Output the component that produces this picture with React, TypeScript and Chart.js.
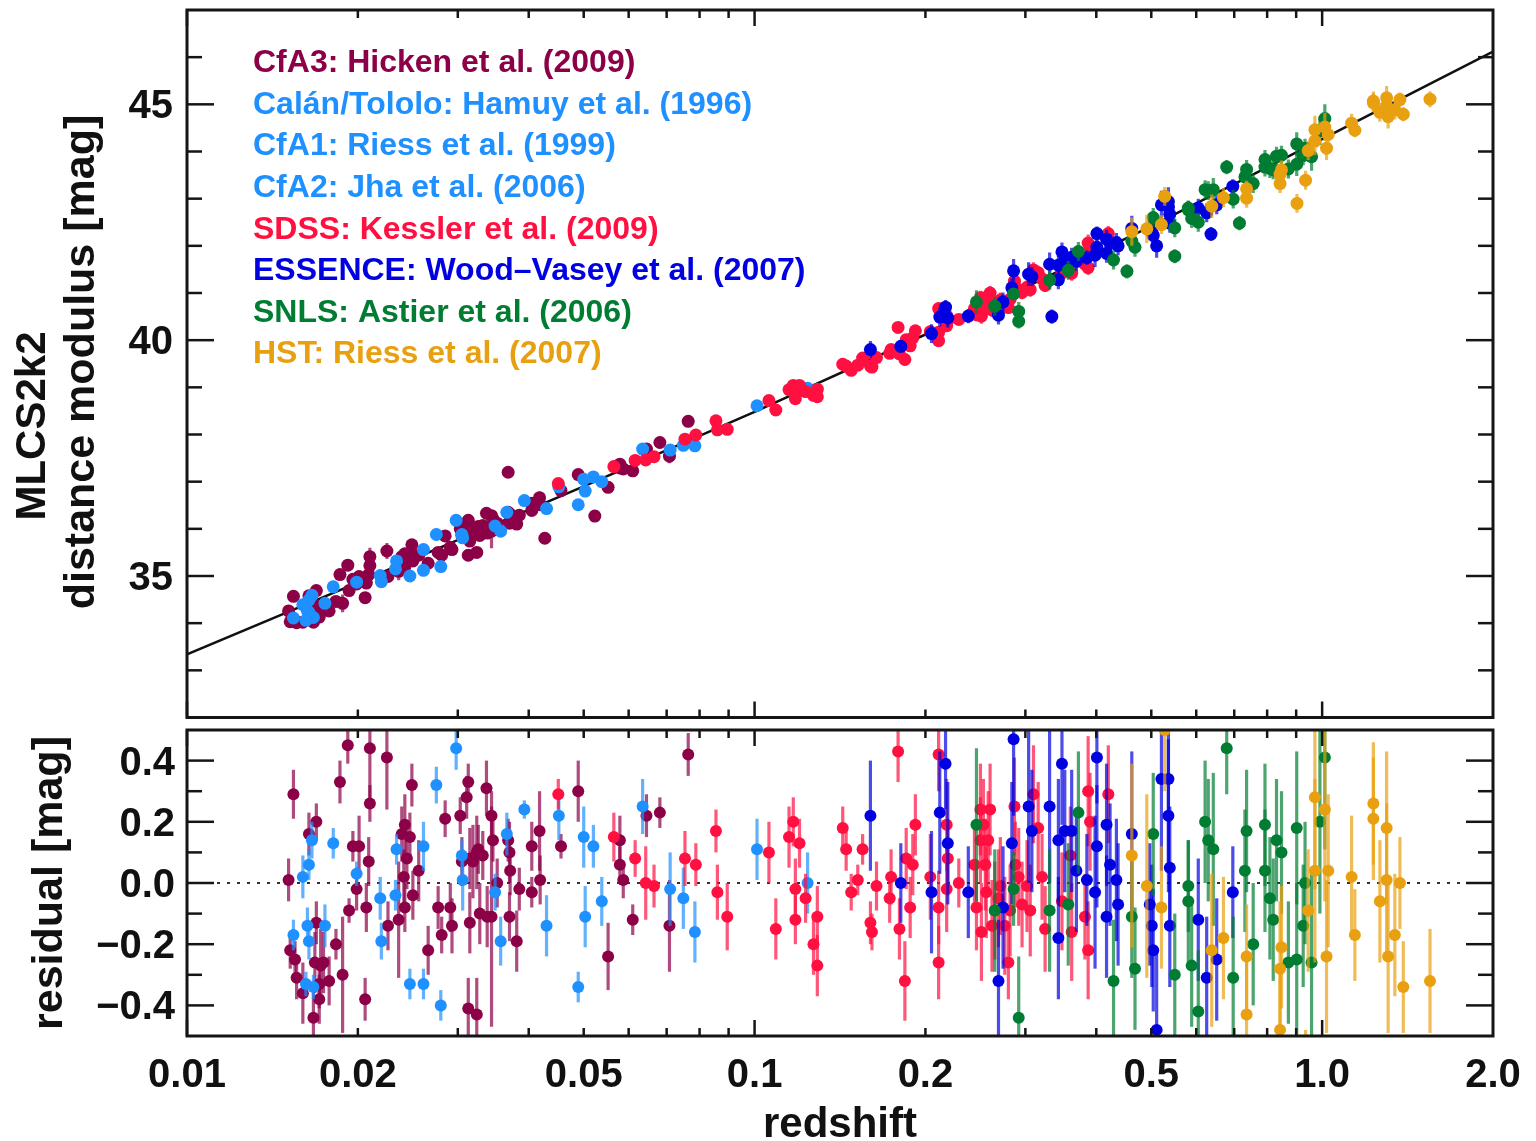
import React, { useEffect, useRef } from "react";
import { Chart, registerables } from "chart.js";

Chart.register(...registerables);

const FONT = '"Liberation Sans", Arial, Helvetica, sans-serif';

// ---------------- model curve ----------------
const modelZ = [0.01, 0.02, 0.05, 0.1, 0.2, 0.3, 0.5, 0.7, 1.0, 1.5, 2.0];
const modelMu = [33.34, 34.86, 36.9, 38.48, 40.12, 41.12, 42.42, 43.31, 44.26, 45.35, 46.12];
const zeroLineZ = [0.01, 2.0];
const zeroLineRes = [0, 0];

// ---------------- axis ticks ----------------
const xTickValues = [0.01, 0.02, 0.05, 0.1, 0.2, 0.5, 1.0, 2.0];
const xTickLabels = ["0.01", "0.02", "0.05", "0.1", "0.2", "0.5", "1.0", "2.0"];
const xMajorTicks = [0.01, 0.1, 1.0];
const xMinorTicks = [0.02, 0.03, 0.04, 0.05, 0.06, 0.07, 0.08, 0.09, 0.2, 0.3, 0.4, 0.5, 0.6, 0.7, 0.8, 0.9];
const muTickValues = [35, 40, 45];
const muTickLabels = ["35", "40", "45"];
const muMinorTicks = [33, 34, 36, 37, 38, 39, 41, 42, 43, 44, 46];
const resTickValues = [0.4, 0.2, 0.0, -0.2, -0.4];
const resTickLabels = ["0.4", "0.2", "0.0", "\u22120.2", "\u22120.4"];
const resMinorTicks = [0.3, 0.1, -0.1, -0.3];

// ---------------- CfA3: Hicken et al. (2009) ----------------
const cfa3Z = [0.0154,0.0151,0.0152,0.0155,0.0156,0.0164,0.0169,0.0169,0.0168,0.0174,
0.0171,0.0171,0.0167,0.0183,0.0186,0.0192,0.0188,0.0193,0.0196,0.0201,
0.0199,0.0206,0.0207,0.0209,0.0210,0.0210,0.0225,0.0226,0.0236,0.0239,
0.0242,0.0247,0.0244,0.0241,0.0242,0.0250,0.0249,0.0256,0.0266,0.0277,
0.0281,0.0285,0.0291,0.0293,0.0303,0.0311,0.0313,0.0315,0.0313,0.0324,
0.0324,0.0319,
0.0328,0.0338,0.0326,0.0332,0.0315,0.0305,
0.0337,0.0344,0.0346,0.0352,0.0368,0.0370,0.0371,0.0370,0.0381,0.0385,
0.0344,0.0405,0.0418,0.0419,0.0405,0.0456,0.0489,0.0552,0.0579,0.0579,
0.0587,0.0610,0.0645,0.0681,0.0708,0.0764,
0.0368,0.0523,0.0427,
0.0160,0.0172,0.0178];
const cfa3Mu = [34.57,34.26,34.03,34.05,34.01,34.58,34.69,34.37,34.22,34.29,
34.19,34.13,34.02,34.46,35.03,35.23,34.42,34.69,34.93,34.99,
34.83,34.54,34.85,35.03,35.41,35.22,35.53,34.99,35.10,35.41,
35.47,35.47,35.38,35.28,35.20,35.32,35.66,35.44,35.27,35.50,
35.44,35.85,35.61,35.56,36.00,36.12,36.18,35.74,35.44,35.50,
36.03,35.97,
35.86,35.91,36.05,36.07,35.94,35.86,
36.33,36.28,36.21,36.12,36.35,36.32,36.26,36.12,36.10,36.29,
35.95,36.54,36.66,36.51,36.39,36.81,37.15,36.88,37.37,37.29,
37.27,37.23,37.69,37.83,37.54,38.28,
37.20,36.27,35.80,
34.02,34.26,34.26];
const cfa3Res = [0.29,0.01,-0.22,-0.25,-0.31,0.16,0.20,-0.13,-0.26,-0.26,
-0.33,-0.38,-0.44,-0.20,0.33,0.45,-0.30,-0.09,0.12,0.12,
-0.02,-0.38,-0.08,0.07,0.44,0.26,0.41,-0.14,-0.12,0.16,
0.19,0.15,0.08,0.02,-0.08,-0.04,0.32,0.04,-0.22,-0.08,
-0.17,0.21,-0.08,-0.14,0.22,0.28,0.33,-0.13,-0.41,-0.43,
0.10,0.07,
-0.10,-0.11,0.11,0.09,0.08,0.07,
0.31,0.22,0.14,0.00,0.14,0.10,0.04,-0.11,-0.19,-0.02,
-0.11,0.12,0.17,0.01,-0.03,0.12,0.30,-0.24,0.14,0.06,
0.01,-0.12,0.22,0.23,-0.14,0.42,
0.99,-0.73,-0.74,
-0.36,-0.27,-0.32];
const cfa3Err = [0.08,0.07,0.06,0.06,0.07,0.07,0.06,0.07,0.10,0.10,
0.08,0.08,0.10,0.05,0.07,0.06,0.19,0.04,0.05,0.10,
0.07,0.07,0.08,0.08,0.19,0.06,0.17,0.08,0.19,0.09,
0.10,0.08,0.10,0.09,0.08,0.08,0.07,0.10,0.08,0.07,
0.06,0.06,0.08,0.09,0.06,0.07,0.06,0.10,0.10,0.12,
0.12,0.12,
0.10,0.10,0.08,0.08,0.10,0.08,
0.09,0.08,0.07,0.08,0.07,0.10,0.08,0.08,0.10,0.07,
0.36,0.08,0.13,0.08,0.05,0.04,0.10,0.11,0.08,0.06,
0.06,0.05,0.07,0.05,0.15,0.07,
0.10,0.10,0.08,
0.10,0.12,0.08];

// ---------------- Calán/Tololo: Hamuy et al. (1996) ----------------
const calanZ = [0.0160,0.0175,0.0199,0.0234,0.0298,0.0393,0.0489,0.0520,0.0710,0.101,0.124];
const calanMu = [34.39,34.42,34.87,35.32,36.18,36.60,36.51,37.10,37.67,38.61,38.98];
const calanRes = [0.02,-0.14,0.03,0.11,0.44,0.24,-0.34,0.12,-0.02,0.11,0.00];
const calanErr = [0.07,0.07,0.04,0.05,0.07,0.03,0.05,0.07,0.12,0.10,0.10];

// ---------------- CfA1: Riess et al. (1999) ----------------
const cfa1Z = [0.0154,0.0166,0.0164,0.0167,0.0220,0.0261,0.0275,0.0366,0.0452,0.0538];
const cfa1Mu = [34.11,34.59,34.23,34.12,34.88,35.12,35.88,36.35,36.89,37.00];
const cfa1Res = [-0.17,0.14,-0.19,-0.34,-0.19,-0.33,0.32,0.16,0.22,-0.06];
const cfa1Err = [0.05,0.06,0.06,0.04,0.06,0.05,0.06,0.07,0.08,0.08];

// ---------------- CfA2: Jha et al. (2006) ----------------
const cfa2Z = [0.0164,0.0163,0.0162,0.0181,0.0219,0.0233,0.0247,0.0261,0.0280,0.0306,
0.0305,0.0357,0.0349,0.0430,0.0500,0.0503,0.0635,0.0749,0.0785];
const cfa2Mu = [34.49,34.26,34.06,34.77,35.01,35.15,35.00,35.56,35.20,35.81,
35.88,35.95,36.06,36.43,37.05,36.80,37.69,37.77,37.76];
const cfa2Res = [0.06,-0.14,-0.33,0.13,-0.05,-0.04,-0.33,0.12,-0.40,0.01,
0.09,-0.19,-0.03,-0.14,0.15,-0.11,0.25,-0.05,-0.16];
const cfa2Err = [0.05,0.06,0.04,0.05,0.07,0.05,0.05,0.08,0.05,0.10,
0.05,0.08,0.06,0.10,0.10,0.10,0.09,0.10,0.10];

// ---------------- SDSS: Kessler et al. (2009) ----------------
const sdssZ = [0.0451,0.0565,0.0616,0.0643,0.0665,0.0754,0.0788,
0.0855,0.0860,0.0895,0.106,0.109,0.115,0.117,0.120,0.118,0.118,
0.123,0.127,0.129,0.129,0.143,0.145,0.148,0.152,0.155,0.160,
0.161,0.164,0.173,0.174,0.179,0.180,0.184,0.185,0.190,0.192,0.188,
0.211,0.218,0.219,0.218,0.211,0.211,0.204,0.229,0.250,0.260,
0.250,0.258,0.255,0.246,0.251,0.256,0.280,0.287,0.288,0.296,
0.310,0.316,0.321,0.325,0.360,0.362,0.382,0.387,0.387,0.390,
0.420,0.271,0.265,0.302,0.348,
0.253,0.244,0.276,0.262,0.269,0.282,0.292,0.306];
const sdssMu = [36.96,37.32,37.45,37.46,37.53,37.90,37.99,
38.29,38.10,38.11,38.72,38.52,38.95,39.04,39.04,38.85,38.76,
38.91,38.83,38.96,38.80,39.49,39.45,39.36,39.47,39.62,39.45,
39.43,39.63,39.72,39.80,40.27,39.71,39.59,40.01,40.05,40.20,39.88,
40.67,40.52,40.42,40.31,40.17,39.99,40.18,40.44,40.90,41.00,
40.80,40.88,40.77,40.54,40.51,40.69,40.69,41.25,41.07,41.01,
41.49,41.43,41.30,41.16,41.66,41.42,41.61,41.54,42.06,41.97,
42.26,40.85,40.72,41.12,41.42,
40.88,40.67,40.77,40.64,40.79,40.87,41.07,41.07];
const sdssRes = [0.29,0.15,0.08,0.00,-0.01,0.08,0.06,
0.17,-0.03,-0.11,0.10,-0.15,0.15,0.20,0.13,-0.02,-0.12,
-0.05,-0.20,-0.11,-0.27,0.18,0.11,-0.03,0.01,0.11,-0.13,
-0.16,-0.01,-0.05,0.02,0.43,-0.15,-0.32,0.08,0.06,0.19,-0.08,
0.42,0.19,0.08,-0.02,-0.08,-0.26,0.02,0.00,0.24,0.24,
0.14,0.14,0.06,-0.08,-0.16,-0.03,-0.26,0.25,0.06,-0.07,
0.29,0.18,0.02,-0.15,0.09,-0.16,-0.11,-0.22,0.30,0.20,
0.29,-0.01,-0.09,-0.01,-0.06,
0.19,0.06,-0.14,-0.14,-0.05,-0.09,0.02,-0.09];
const sdssErr = [0.05,0.08,0.06,0.12,0.07,0.09,0.07,
0.07,0.09,0.11,0.10,0.10,0.10,0.08,0.08,0.10,0.08,
0.08,0.10,0.10,0.10,0.07,0.07,0.06,0.05,0.05,0.07,
0.06,0.08,0.08,0.09,0.10,0.10,0.13,0.10,0.10,0.10,0.10,
0.12,0.15,0.12,0.14,0.12,0.12,0.14,0.08,0.15,0.15,
0.14,0.16,0.15,0.14,0.16,0.15,0.12,0.16,0.14,0.14,
0.16,0.15,0.14,0.14,0.16,0.16,0.14,0.16,0.18,0.16,
0.16,0.16,0.16,0.15,0.16,
0.15,0.14,0.16,0.15,0.16,0.15,0.16,0.15];

// ---------------- ESSENCE: Wood-Vasey et al. (2007) ----------------
const essZ = [0.160,0.181,0.217,0.212,0.205,0.219,0.238,0.274,0.269,0.286,
0.284,0.304,0.308,0.331,0.348,0.343,0.352,0.343,0.369,0.385,
0.401,0.401,0.398,0.417,0.417,0.423,0.362,
0.462,0.434,0.437,0.521,0.536,0.536,0.539,0.539,0.501,0.504,
0.511,0.605,0.652,0.626,0.696,0.497,
0.334,0.637];
const essMu = [39.80,39.87,40.70,40.49,40.14,40.47,40.51,40.81,40.53,41.47,
41.11,41.40,41.35,41.61,41.87,41.59,41.69,41.28,41.67,41.75,
42.26,41.97,41.80,42.14,41.84,42.05,41.76,
42.37,42.07,42.00,42.87,42.94,42.82,42.67,42.48,42.29,42.22,
42.00,42.80,42.87,42.70,43.26,42.34,
40.50,42.25];
const essRes = [0.22,0.00,0.39,0.23,-0.03,0.13,-0.03,-0.08,-0.32,0.47,
0.13,0.25,0.17,0.25,0.39,0.14,0.17,-0.18,0.04,0.01,
0.41,0.12,-0.03,0.19,-0.11,0.06,0.17,
0.16,0.01,-0.07,0.34,0.34,0.22,0.05,-0.14,-0.14,-0.22,
-0.48,-0.12,-0.25,-0.31,-0.03,-0.07,
-0.88,-0.80];
const essErr = [0.18,0.13,0.15,0.20,0.20,0.20,0.15,0.20,0.20,0.25,
0.20,0.25,0.20,0.25,0.20,0.20,0.20,0.20,0.20,0.15,
0.15,0.20,0.25,0.20,0.20,0.20,0.20,
0.27,0.20,0.20,0.30,0.30,0.25,0.20,0.20,0.20,0.20,
0.25,0.20,0.20,0.20,0.15,0.20,
0.15,0.15];

// ---------------- SNLS: Astier et al. (2006) ----------------
const snlsZ = [0.246,0.265,0.286,0.292,0.331,0.357,0.372,0.429,
0.462,0.468,0.504,0.550,0.581,0.581,0.589,0.605,0.622,0.630,
0.643,0.679,0.697,0.731,0.736,0.756,0.793,0.793,0.809,0.820,
0.831,0.848,0.872,0.902,
0.926,0.902,0.958,0.933,1.011,0.991,
0.550,0.453,0.292,0.715];
const snlsMu = [40.81,40.72,40.98,40.61,41.27,41.48,41.88,41.70,
42.10,41.97,42.60,42.38,42.76,42.80,42.58,42.50,43.19,43.17,
43.19,43.67,42.99,43.46,43.62,43.32,43.83,43.67,43.64,43.61,
43.90,43.92,43.63,44.16,
43.91,43.73,43.89,44.07,44.70,44.44,
41.78,41.46,40.40,42.48];
const snlsRes = [0.19,-0.09,-0.02,-0.44,-0.09,-0.07,0.23,-0.32,
-0.11,-0.28,0.16,-0.30,-0.06,-0.01,-0.27,-0.42,0.20,0.14,
0.11,0.44,-0.31,0.04,0.17,-0.20,0.19,0.04,-0.05,-0.12,
0.14,0.10,-0.26,0.18,
-0.14,-0.25,-0.26,0.00,0.41,0.20,
-0.90,-0.69,-0.65,-0.88];
const snlsErr = [0.25,0.20,0.12,0.20,0.20,0.20,0.20,0.20,
0.20,0.20,0.20,0.20,0.20,0.15,0.20,0.20,0.20,0.20,
0.25,0.15,0.20,0.20,0.20,0.20,0.20,0.20,0.20,0.20,
0.20,0.20,0.20,0.25,
0.20,0.25,0.30,0.20,0.30,0.30,
0.15,0.15,0.15,0.15];

// ---------------- HST: Riess et al. (2007) ----------------
const hstZ = [0.462,0.491,0.521,0.639,0.670,0.736,0.736,0.843,0.848,0.843,
0.971,0.971,1.011,1.025,1.018,1.127,1.142,1.231,1.231,1.299,
1.299,1.264,1.307,1.343,1.371,1.390,1.549,0.945,
0.528,0.903,0.935];
const hstMu = [42.30,42.36,42.45,42.84,43.02,43.21,43.01,43.52,43.61,43.32,
44.46,44.22,44.52,44.36,44.07,44.60,44.45,45.07,45.03,45.14,
44.97,44.83,44.74,44.88,45.10,44.79,45.11,44.02,
43.05,42.90,43.39];
const hstRes = [0.09,-0.01,-0.08,-0.22,-0.18,-0.24,-0.43,-0.28,-0.21,-0.48,
0.28,0.04,0.24,0.04,-0.24,0.02,-0.17,0.26,0.21,0.18,
0.01,-0.06,-0.24,-0.17,0.00,-0.34,-0.32,-0.09,
0.50,-1.08,-0.68];
const hstErr = [0.30,0.30,0.20,0.25,0.20,0.17,0.20,0.22,0.20,0.20,
0.30,0.30,0.30,0.25,0.25,0.20,0.15,0.20,0.20,0.25,
0.25,0.20,0.25,0.20,0.15,0.15,0.17,0.20,
0.20,0.20,0.20];

// ---------------- legend ----------------
const legendLabels = [
  "CfA3: Hicken et al. (2009)",
  "Cal\u00e1n/Tololo: Hamuy et al. (1996)",
  "CfA1: Riess et al. (1999)",
  "CfA2: Jha et al. (2006)",
  "SDSS: Kessler et al. (2009)",
  "ESSENCE: Wood\u2013Vasey et al. (2007)",
  "SNLS: Astier et al. (2006)",
  "HST: Riess et al. (2007)",
];
const legendColors = [
  "rgb(140,0,72)", "rgb(30,144,255)", "rgb(30,144,255)", "rgb(30,144,255)",
  "rgb(255,16,64)", "rgb(0,0,225)", "rgb(0,125,50)", "rgb(232,160,16)",
];
const barColors = [
  "rgba(140,0,72,0.7)", "rgba(30,144,255,0.7)", "rgba(30,144,255,0.7)", "rgba(30,144,255,0.7)",
  "rgba(255,16,64,0.7)", "rgba(0,0,225,0.7)", "rgba(0,125,50,0.7)", "rgba(232,160,16,0.7)",
];

type Survey = { z: number[]; mu: number[]; res: number[]; err: number[] };
const surveyTable: Survey[] = [
  { z: cfa3Z, mu: cfa3Mu, res: cfa3Res, err: cfa3Err },
  { z: calanZ, mu: calanMu, res: calanRes, err: calanErr },
  { z: cfa1Z, mu: cfa1Mu, res: cfa1Res, err: cfa1Err },
  { z: cfa2Z, mu: cfa2Mu, res: cfa2Res, err: cfa2Err },
  { z: sdssZ, mu: sdssMu, res: sdssRes, err: sdssErr },
  { z: essZ, mu: essMu, res: essRes, err: essErr },
  { z: snlsZ, mu: snlsMu, res: snlsRes, err: snlsErr },
  { z: hstZ, mu: hstMu, res: hstRes, err: hstErr },
];

function surveyDatasets(which: "mu" | "res", radius: number) {
  return surveyTable.map((s, k) => ({
    type: "scatter" as const,
    label: legendLabels[k],
    data: s.z.map((z, i) => ({ x: z, y: which === "mu" ? s.mu[i] : s.res[i] })),
    backgroundColor: legendColors[k],
    borderWidth: 0,
    pointBorderWidth: 0,
    pointRadius: radius,
    pointHoverRadius: radius,
    order: surveyTable.length - k,
    errs: s.err,
    barColor: barColors[k],
  }));
}

const errorBarPlugin = {
  id: "errorBars",
  beforeDatasetDraw(chart: any, args: any) {
    const ds = chart.data.datasets[args.index];
    if (!ds.errs) return;
    const { ctx, chartArea: a } = chart;
    const xs = chart.scales.x;
    const ys = chart.scales.y;
    ctx.save();
    ctx.beginPath();
    ctx.rect(a.left, a.top, a.right - a.left, a.bottom - a.top);
    ctx.clip();
    ctx.strokeStyle = ds.barColor;
    ctx.lineWidth = 3.2;
    ds.data.forEach((p: any, i: number) => {
      const e = ds.errs[i];
      const px = xs.getPixelForValue(p.x);
      ctx.beginPath();
      ctx.moveTo(px, ys.getPixelForValue(p.y - e));
      ctx.lineTo(px, ys.getPixelForValue(p.y + e));
      ctx.stroke();
    });
    ctx.restore();
  },
};

function drawFrame(chart: any, yMajor: number[], yMinor: number[]) {
  const { ctx, chartArea: a } = chart;
  const xs = chart.scales.x;
  const ys = chart.scales.y;
  ctx.save();
  ctx.strokeStyle = "#151515";
  ctx.lineWidth = 2.5;
  const seg = (x1: number, y1: number, x2: number, y2: number) => {
    ctx.beginPath();
    ctx.moveTo(x1, y1);
    ctx.lineTo(x2, y2);
    ctx.stroke();
  };
  xMajorTicks.forEach((v) => {
    const p = xs.getPixelForValue(v);
    seg(p, a.bottom, p, a.bottom - 16);
    seg(p, a.top, p, a.top + 16);
  });
  xMinorTicks.forEach((v) => {
    const p = xs.getPixelForValue(v);
    seg(p, a.bottom, p, a.bottom - 8);
    seg(p, a.top, p, a.top + 8);
  });
  yMajor.forEach((v) => {
    const p = ys.getPixelForValue(v);
    seg(a.left, p, a.left + 27, p);
    seg(a.right, p, a.right - 27, p);
  });
  yMinor.forEach((v) => {
    const p = ys.getPixelForValue(v);
    seg(a.left, p, a.left + 15, p);
    seg(a.right, p, a.right - 15, p);
  });
  ctx.lineWidth = 3;
  ctx.strokeRect(a.left, a.top, a.right - a.left, a.bottom - a.top);
  ctx.restore();
}

function text(ctx: CanvasRenderingContext2D, s: string, x: number, y: number, size: number,
  align: CanvasTextAlign = "center", color = "#111", rotate = false) {
  ctx.save();
  ctx.font = `bold ${size}px ${FONT}`;
  ctx.fillStyle = color;
  ctx.textAlign = align;
  ctx.textBaseline = "alphabetic";
  if (rotate) {
    ctx.translate(x, y);
    ctx.rotate(-Math.PI / 2);
    ctx.fillText(s, 0, 0);
  } else {
    ctx.fillText(s, x, y);
  }
  ctx.restore();
}

const topDecor = {
  id: "topDecor",
  afterDraw(chart: any) {
    const { ctx, chartArea: a } = chart;
    const ys = chart.scales.y;
    drawFrame(chart, muTickValues, muMinorTicks);
    muTickValues.forEach((v, i) => {
      text(ctx, muTickLabels[i], a.left - 14, ys.getPixelForValue(v) + 14, 40, "right");
    });
    text(ctx, "MLCS2k2", 45, 426, 42, "center", "#111", true);
    text(ctx, "distance modulus [mag]", 94, 362, 43, "center", "#111", true);
    const baselines = [72, 114, 155, 197, 239, 280, 322, 363];
    legendLabels.forEach((l, i) => text(ctx, l, 253, baselines[i], 32, "left", legendColors[i]));
  },
};

const bottomDecor = {
  id: "bottomDecor",
  afterDraw(chart: any) {
    const { ctx, chartArea: a } = chart;
    const xs = chart.scales.x;
    const ys = chart.scales.y;
    drawFrame(chart, resTickValues, resMinorTicks);
    resTickValues.forEach((v, i) => {
      text(ctx, resTickLabels[i], a.left - 12, ys.getPixelForValue(v) + 14, 40, "right");
    });
    xTickValues.forEach((v, i) => {
      text(ctx, xTickLabels[i], xs.getPixelForValue(v), a.bottom + 51, 40, "center");
    });
    text(ctx, "redshift", (a.left + a.right) / 2, a.bottom + 101, 42, "center");
    text(ctx, "residual [mag]", 62, (a.top + a.bottom) / 2, 43, "center", "#111", true);
  },
};

export default function App() {
  const topRef = useRef<HTMLCanvasElement>(null);
  const botRef = useRef<HTMLCanvasElement>(null);

  useEffect(() => {
    document.body.style.margin = "0";
    const top = new Chart(topRef.current as HTMLCanvasElement, {
      type: "scatter",
      data: {
        datasets: [
          ...surveyDatasets("mu", 6.5),
          {
            type: "line" as const,
            label: "model",
            data: modelZ.map((z, i) => ({ x: z, y: modelMu[i] })),
            borderColor: "#111",
            borderWidth: 2.5,
            pointRadius: 0,
            fill: false,
            order: 100,
          } as any,
        ],
      },
      options: {
        responsive: false,
        animation: false,
        devicePixelRatio: 1,
        events: [],
        layout: { padding: { left: 187, right: 43, top: 10, bottom: 6 } },
        scales: {
          x: { type: "logarithmic", min: 0.01, max: 2.0, display: false },
          y: { type: "linear", min: 32, max: 47, display: false },
        },
        plugins: { legend: { display: false }, tooltip: { enabled: false } },
      },
      plugins: [errorBarPlugin, topDecor],
    } as any);

    const bot = new Chart(botRef.current as HTMLCanvasElement, {
      type: "scatter",
      data: {
        datasets: [
          ...surveyDatasets("res", 6),
          {
            type: "line" as const,
            label: "zero",
            data: zeroLineZ.map((z, i) => ({ x: z, y: zeroLineRes[i] })),
            borderColor: "#333",
            borderWidth: 2.2,
            borderDash: [3, 7],
            pointRadius: 0,
            fill: false,
            order: 100,
          } as any,
        ],
      },
      options: {
        responsive: false,
        animation: false,
        devicePixelRatio: 1,
        events: [],
        layout: { padding: { left: 187, right: 43, top: 6, bottom: 105 } },
        scales: {
          x: { type: "logarithmic", min: 0.01, max: 2.0, display: false },
          y: { type: "linear", min: -0.5, max: 0.5, display: false },
        },
        plugins: { legend: { display: false }, tooltip: { enabled: false } },
      },
      plugins: [errorBarPlugin, bottomDecor],
    } as any);

    return () => {
      top.destroy();
      bot.destroy();
    };
  }, []);

  return (
    <div style={{ position: "absolute", left: 0, top: 0, width: 1536, height: 1141, background: "#fff" }}>
      <canvas ref={topRef} width={1536} height={724} style={{ position: "absolute", left: 0, top: 0 }} />
      <canvas ref={botRef} width={1536} height={417} style={{ position: "absolute", left: 0, top: 724 }} />
    </div>
  );
}
